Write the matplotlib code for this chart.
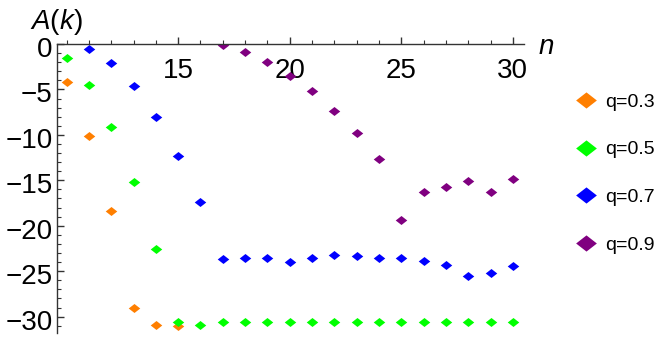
import matplotlib.pyplot as plt
from matplotlib.ticker import MultipleLocator, FixedLocator
from matplotlib.transforms import ScaledTranslation

plt.rcParams['font.family'] = ['Liberation Sans', 'DejaVu Sans']
plt.rcParams['mathtext.fontset'] = 'custom'
plt.rcParams['mathtext.rm'] = 'Liberation Sans'
plt.rcParams['mathtext.it'] = 'Liberation Sans:italic'

# values
n_q03 = [10, 11, 12, 13, 14, 15]
a_q03 = [-4.2, -10.1, -18.4, -29.0, -30.9, -31.0]

n_q05 = list(range(10, 31))
a_q05 = [-1.5, -4.5, -9.1, -15.2, -22.6, -30.6, -30.9, -30.6, -30.6, -30.6,
         -30.6, -30.6, -30.6, -30.6, -30.6, -30.6, -30.6, -30.6, -30.6, -30.6, -30.6]

n_q07 = list(range(11, 31))
a_q07 = [-0.6, -2.1, -4.6, -8.0, -12.3, -17.4, -23.7, -23.5, -23.6, -24.0,
         -23.5, -23.2, -23.3, -23.5, -23.5, -23.9, -24.3, -25.5, -25.2, -24.4]

n_q09 = list(range(17, 31))
a_q09 = [-0.1, -0.85, -2.0, -3.5, -5.2, -7.4, -9.8, -12.6, -19.4, -16.3,
         -15.7, -15.1, -16.3, -14.8]

labels = ['q=0.3', 'q=0.5', 'q=0.7', 'q=0.9']
colors = ['#ff7f00', '#00ff00', '#0000ff', '#800080']

diamond = [(-1, 0), (0, 0.78), (1, 0), (0, -0.78), (-1, 0)]

W, H = 664, 338
fig = plt.figure(figsize=(W / 100, H / 100), dpi=100)
ax = fig.add_axes([57 / W, 1 - 333 / H, (524 - 57) / W, (333 - 44) / H])

series = [(n_q03, a_q03), (n_q05, a_q05), (n_q07, a_q07), (n_q09, a_q09)]
for (x, y), lab, c in zip(series, labels, colors):
    ax.plot(x, y, linestyle='none', marker=diamond, markersize=8.3,
            color=c, markeredgewidth=0, label=lab)

ax.set_xlim(9.57, 30.5)
ax.set_ylim(-31.8, 0)

ax.spines['top'].set_visible(False)
ax.spines['right'].set_visible(False)
ax.spines['bottom'].set_position(('data', 0))
for s in ['left', 'bottom']:
    ax.spines[s].set_linewidth(1.0)
    ax.spines[s].set_color('#333333')

ax.xaxis.set_major_locator(FixedLocator([15, 20, 25, 30]))
ax.xaxis.set_minor_locator(MultipleLocator(1))
ax.yaxis.set_major_locator(MultipleLocator(5))
ax.yaxis.set_minor_locator(MultipleLocator(1))
ax.tick_params(which='both', direction='in', labelsize=20, color='#333333')
ax.tick_params(which='major', length=5, width=1)
ax.tick_params(which='minor', length=3, width=0.8)
ax.tick_params(axis='x', pad=10)
ax.tick_params(axis='y', pad=3)

# Mathematica puts the y labels a little below their ticks
shift = ScaledTranslation(0, -0.03, fig.dpi_scale_trans)
for t in ax.yaxis.get_major_ticks():
    t.label1.set_transform(t.label1.get_transform() + shift)

fig.text(56 / W, 1 - 22 / H, '$A(k)$', fontsize=20, ha='center', va='center')
fig.text(546 / W, 1 - 47 / H, '$n$', fontsize=20, ha='center', va='center')

ax.legend(loc='upper left', bbox_to_anchor=(576 / W, 1 - 93 / H),
          bbox_transform=fig.transFigure, frameon=False, fontsize=14,
          markerscale=1.8, handlelength=1.0, handletextpad=0.5,
          labelspacing=1.55, borderpad=0, borderaxespad=0)

fig.savefig('out.png', dpi=100)
